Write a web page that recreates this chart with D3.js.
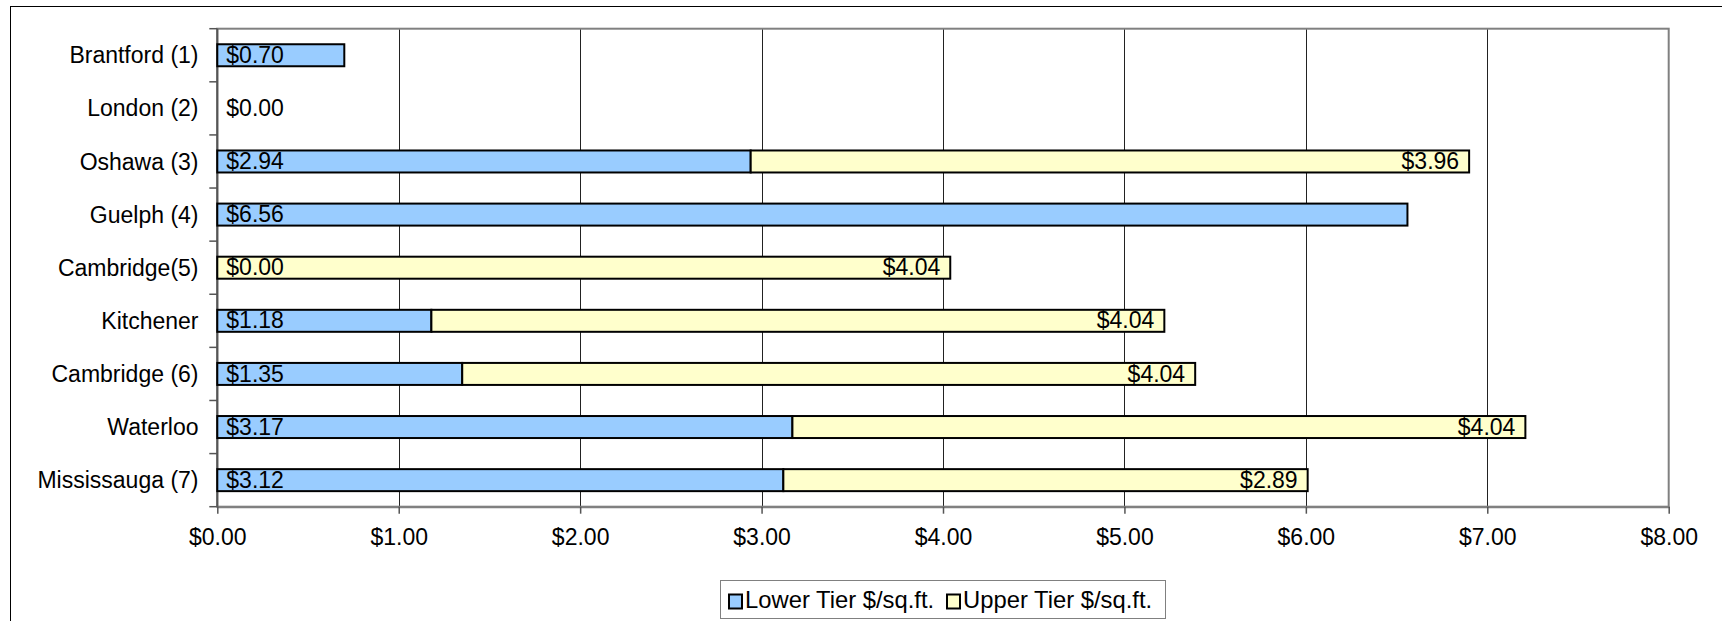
<!DOCTYPE html>
<html>
<head>
<meta charset="utf-8">
<script src="https://cdn.jsdelivr.net/npm/d3@7"></script>
<style>
  html, body { margin: 0; padding: 0; background: #fff; }
  svg { display: block; font-family: "Liberation Sans", Arial, sans-serif; }
</style>
</head>
<body>
<svg id="chart" width="1722" height="621"></svg>
<script>
// Municipal charge per square foot, split into lower and upper tier
const cities = ["Brantford (1)", "London (2)", "Oshawa (3)", "Guelph (4)", "Cambridge(5)",
                "Kitchener", "Cambridge (6)", "Waterloo", "Mississauga (7)"];
const lowerTier = [0.70, 0.00, 2.94, 6.56, 0.00, 1.18, 1.35, 3.17, 3.12];
const upperTier = [null, null, 3.96, null, 4.04, 4.04, 4.04, 4.04, 2.89];
const xTicks = [0, 1, 2, 3, 4, 5, 6, 7, 8];
const seriesNames = ["Lower Tier $/sq.ft.", "Upper Tier $/sq.ft."];
const seriesColors = ["#99CCFF", "#FFFFCC"];

const svg = d3.select("#chart");
const plot = { left: 217.3, top: 28.7, right: 1668.7, bottom: 506.7 };
const fontSize = 23;
const money = d3.format("$.2f");

// Outer chart frame
svg.append("rect")
  .attr("x", 10.5).attr("y", 6.5)
  .attr("width", 1722).attr("height", 640)
  .attr("fill", "none").attr("stroke", "#000").attr("stroke-width", 1);

const x = d3.scaleLinear().domain([0, 8]).range([plot.left, plot.right]);
const pad = 1 - 22 / ((plot.bottom - plot.top) / cities.length);
const y = d3.scaleBand().domain(cities).range([plot.top, plot.bottom])
  .paddingInner(pad).paddingOuter(pad / 2);

// Vertical gridlines
svg.append("g").selectAll("line")
  .data(xTicks.filter(d => d > 0 && d < 8))
  .join("line")
  .attr("x1", d => Math.round(x(d)) + 0.5).attr("x2", d => Math.round(x(d)) + 0.5)
  .attr("y1", plot.top).attr("y2", plot.bottom)
  .attr("stroke", "#222").attr("stroke-width", 1);

// Plot area border
svg.append("rect")
  .attr("x", plot.left).attr("y", plot.top)
  .attr("width", plot.right - plot.left).attr("height", plot.bottom - plot.top)
  .attr("fill", "none").attr("stroke", "#808080").attr("stroke-width", 2);

// X axis
const xAxis = d3.axisBottom(x).tickValues(xTicks).tickFormat(money)
  .tickSize(7).tickSizeOuter(0).tickPadding(15);
const gx = svg.append("g").attr("transform", `translate(0,${plot.bottom})`).call(xAxis);
gx.select(".domain").attr("stroke", "#808080").attr("stroke-width", 2);
gx.selectAll(".tick line").attr("stroke", "#555").attr("stroke-width", 1.5);
gx.selectAll(".tick text").attr("font-size", fontSize).attr("fill", "#000")
  .attr("font-family", "Liberation Sans, Arial, sans-serif");

// Y axis line and category boundary ticks
const step = y.step();
svg.append("line")
  .attr("x1", plot.left).attr("x2", plot.left)
  .attr("y1", plot.top).attr("y2", plot.bottom)
  .attr("stroke", "#555").attr("stroke-width", 2);
svg.append("g").selectAll("line")
  .data(d3.range(cities.length + 1))
  .join("line")
  .attr("x1", plot.left - 8).attr("x2", plot.left)
  .attr("y1", i => plot.top + i * step).attr("y2", i => plot.top + i * step)
  .attr("stroke", "#555").attr("stroke-width", 1.5);

// Category labels
svg.append("g").selectAll("text")
  .data(cities)
  .join("text")
  .attr("x", 198.5)
  .attr("y", d => y(d) + y.bandwidth() / 2)
  .attr("dy", "0.35em")
  .attr("text-anchor", "end")
  .attr("font-size", fontSize)
  .text(d => d);

const rows = cities.map((c, i) => ({ city: c, lower: lowerTier[i], upper: upperTier[i] }));

// Lower tier bars
svg.append("g").selectAll("rect")
  .data(rows.filter(d => d.lower > 0))
  .join("rect")
  .attr("x", x(0))
  .attr("y", d => y(d.city))
  .attr("width", d => x(d.lower) - x(0))
  .attr("height", y.bandwidth())
  .attr("fill", seriesColors[0]).attr("stroke", "#000").attr("stroke-width", 2);

// Upper tier bars, stacked after the lower tier
svg.append("g").selectAll("rect")
  .data(rows.filter(d => d.upper != null))
  .join("rect")
  .attr("x", d => x(d.lower))
  .attr("y", d => y(d.city))
  .attr("width", d => x(d.lower + d.upper) - x(d.lower))
  .attr("height", y.bandwidth())
  .attr("fill", seriesColors[1]).attr("stroke", "#000").attr("stroke-width", 2);

// Value labels: lower tier at the base, upper tier at the inside end
svg.append("g").selectAll("text")
  .data(rows)
  .join("text")
  .attr("x", x(0) + 9)
  .attr("y", d => y(d.city) + y.bandwidth() / 2)
  .attr("dy", "0.33em")
  .attr("font-size", fontSize)
  .text(d => money(d.lower));
svg.append("g").selectAll("text")
  .data(rows.filter(d => d.upper != null))
  .join("text")
  .attr("x", d => x(d.lower + d.upper) - 10)
  .attr("y", d => y(d.city) + y.bandwidth() / 2)
  .attr("dy", "0.33em")
  .attr("text-anchor", "end")
  .attr("font-size", fontSize)
  .text(d => money(d.upper));

// Legend
const legend = svg.append("g");
legend.append("rect")
  .attr("x", 720.5).attr("y", 580.5).attr("width", 445).attr("height", 38)
  .attr("fill", "#fff").attr("stroke", "#808080").attr("stroke-width", 1);
const legendX = [729, 947];
seriesNames.forEach((name, i) => {
  legend.append("rect")
    .attr("x", legendX[i]).attr("y", 594.5).attr("width", 13).attr("height", 14)
    .attr("fill", seriesColors[i]).attr("stroke", "#000").attr("stroke-width", 2);
  legend.append("text")
    .attr("x", legendX[i] + 16).attr("y", 600)
    .attr("dy", "0.35em")
    .attr("font-size", 23.8)
    .text(name);
});
</script>
</body>
</html>
